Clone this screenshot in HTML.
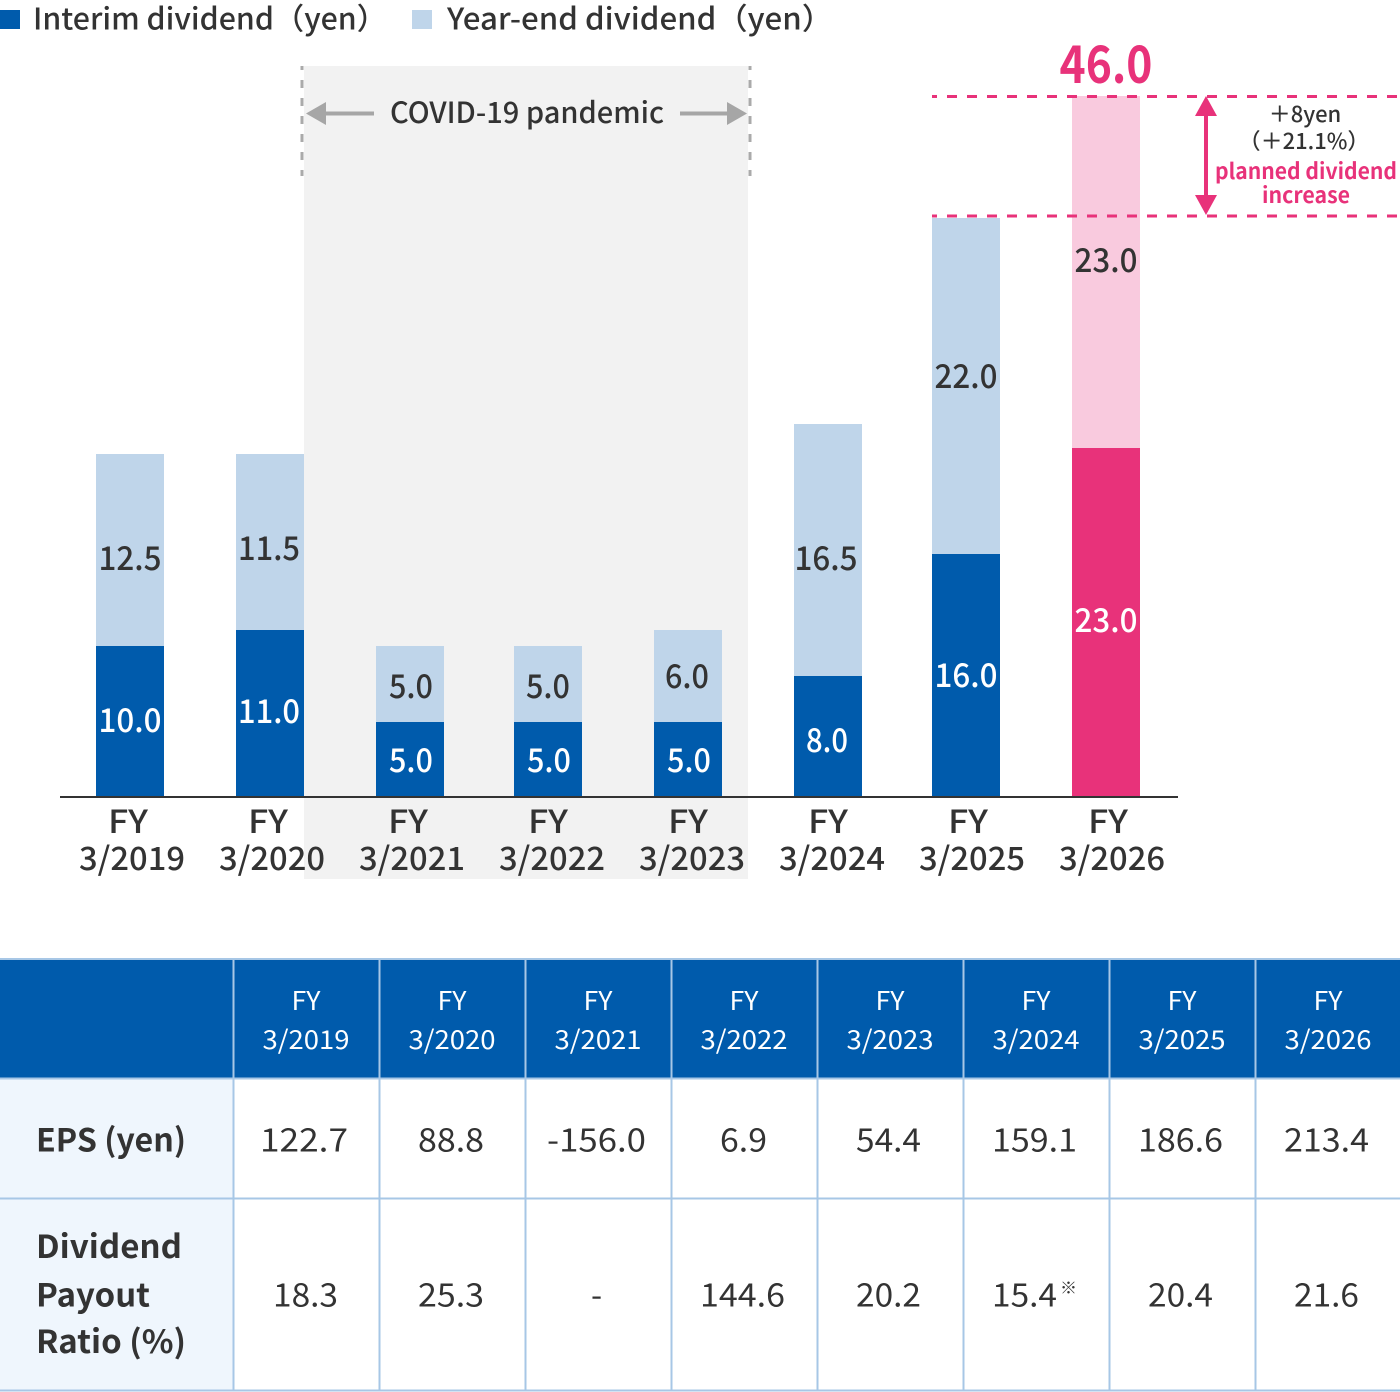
<!DOCTYPE html>
<html><head><meta charset="utf-8"><style>
html,body{margin:0;padding:0;background:#fff;}
body{width:1400px;height:1392px;overflow:hidden;}
svg{display:block;font-family:"Noto Sans CJK JP","Liberation Sans",sans-serif;}
</style></head><body>
<svg width="1400" height="1392" viewBox="0 0 1400 1392" xmlns="http://www.w3.org/2000/svg">
<!-- legend -->
<rect x="0" y="10" width="20" height="19" fill="#005bac"/>
<text x="33" y="29.5" font-size="30" font-weight="500" fill="#333" textLength="354" lengthAdjust="spacingAndGlyphs">Interim dividend（yen）</text>
<rect x="412" y="10" width="20" height="19" fill="#bfd5ea"/>
<text x="447" y="29.5" font-size="30" font-weight="500" fill="#333" textLength="386" lengthAdjust="spacingAndGlyphs">Year-end dividend（yen）</text>

<!-- covid region -->
<rect x="304" y="66" width="444" height="813" fill="#f2f2f2"/>
<line x1="302" y1="66" x2="302" y2="176" stroke="#aaaaaa" stroke-width="3" stroke-dasharray="8 10" stroke-dashoffset="4"/>
<line x1="750" y1="66" x2="750" y2="176" stroke="#aaaaaa" stroke-width="3" stroke-dasharray="8 10" stroke-dashoffset="4"/>
<line x1="322" y1="113.5" x2="374" y2="113.5" stroke="#a6a6a6" stroke-width="4"/>
<polygon points="306,113.5 326,102 326,125" fill="#a6a6a6"/>
<line x1="680" y1="113.5" x2="730" y2="113.5" stroke="#a6a6a6" stroke-width="4"/>
<polygon points="747,113.5 727,102 727,125" fill="#a6a6a6"/>
<text x="390" y="123" font-size="29" font-weight="500" fill="#333" textLength="274" lengthAdjust="spacingAndGlyphs">COVID-19 pandemic</text>

<!-- bars -->
<g>
<rect x="96" y="454" width="68" height="192" fill="#bfd5ea"/>
<rect x="96" y="646" width="68" height="151" fill="#005bac"/>
<rect x="236" y="454" width="68" height="176" fill="#bfd5ea"/>
<rect x="236" y="630" width="68" height="167" fill="#005bac"/>
<rect x="376" y="646" width="68" height="76" fill="#bfd5ea"/>
<rect x="376" y="722" width="68" height="75" fill="#005bac"/>
<rect x="514" y="646" width="68" height="76" fill="#bfd5ea"/>
<rect x="514" y="722" width="68" height="75" fill="#005bac"/>
<rect x="654" y="630" width="68" height="92" fill="#bfd5ea"/>
<rect x="654" y="722" width="68" height="75" fill="#005bac"/>
<rect x="794" y="424" width="68" height="252" fill="#bfd5ea"/>
<rect x="794" y="676" width="68" height="121" fill="#005bac"/>
<rect x="932" y="218" width="68" height="336" fill="#bfd5ea"/>
<rect x="932" y="554" width="68" height="243" fill="#005bac"/>
<rect x="1072" y="96" width="68" height="352" fill="#f9cade"/>
<rect x="1072" y="448" width="68" height="349" fill="#e8327a"/>
</g>
<line x1="60" y1="797" x2="1178" y2="797" stroke="#333" stroke-width="2"/>

<!-- bar labels -->
<g font-size="33" font-weight="500" text-anchor="middle" lengthAdjust="spacingAndGlyphs">
<text x="130" y="570" fill="#333" textLength="63" lengthAdjust="spacingAndGlyphs">12.5</text>
<text x="130" y="732" fill="#fff" textLength="63" lengthAdjust="spacingAndGlyphs">10.0</text>
<text x="269" y="560" fill="#333" textLength="62" lengthAdjust="spacingAndGlyphs">11.5</text>
<text x="269" y="723" fill="#fff" textLength="62" lengthAdjust="spacingAndGlyphs">11.0</text>
<text x="411" y="698" fill="#333" textLength="44" lengthAdjust="spacingAndGlyphs">5.0</text>
<text x="411" y="772" fill="#fff" textLength="44" lengthAdjust="spacingAndGlyphs">5.0</text>
<text x="548" y="698" fill="#333" textLength="44" lengthAdjust="spacingAndGlyphs">5.0</text>
<text x="549" y="772" fill="#fff" textLength="44" lengthAdjust="spacingAndGlyphs">5.0</text>
<text x="687" y="688" fill="#333" textLength="44" lengthAdjust="spacingAndGlyphs">6.0</text>
<text x="689" y="772" fill="#fff" textLength="44" lengthAdjust="spacingAndGlyphs">5.0</text>
<text x="826" y="570" fill="#333" textLength="63" lengthAdjust="spacingAndGlyphs">16.5</text>
<text x="827" y="752" fill="#fff" textLength="42" lengthAdjust="spacingAndGlyphs">8.0</text>
<text x="966" y="388" fill="#333" textLength="63" lengthAdjust="spacingAndGlyphs">22.0</text>
<text x="966" y="687" fill="#fff" textLength="63" lengthAdjust="spacingAndGlyphs">16.0</text>
<text x="1106" y="272" fill="#333" textLength="63" lengthAdjust="spacingAndGlyphs">23.0</text>
<text x="1106" y="632" fill="#fff" textLength="63" lengthAdjust="spacingAndGlyphs">23.0</text>
</g>

<!-- axis labels -->
<g font-size="32" font-weight="500" fill="#333" text-anchor="middle">
<text x="128" y="833" textLength="40" lengthAdjust="spacingAndGlyphs">FY</text>
<text x="132" y="870" textLength="106" lengthAdjust="spacingAndGlyphs">3/2019</text>
<text x="268" y="833" textLength="40" lengthAdjust="spacingAndGlyphs">FY</text>
<text x="272" y="870" textLength="106" lengthAdjust="spacingAndGlyphs">3/2020</text>
<text x="408" y="833" textLength="40" lengthAdjust="spacingAndGlyphs">FY</text>
<text x="412" y="870" textLength="106" lengthAdjust="spacingAndGlyphs">3/2021</text>
<text x="548" y="833" textLength="40" lengthAdjust="spacingAndGlyphs">FY</text>
<text x="552" y="870" textLength="106" lengthAdjust="spacingAndGlyphs">3/2022</text>
<text x="688" y="833" textLength="40" lengthAdjust="spacingAndGlyphs">FY</text>
<text x="692" y="870" textLength="106" lengthAdjust="spacingAndGlyphs">3/2023</text>
<text x="828" y="833" textLength="40" lengthAdjust="spacingAndGlyphs">FY</text>
<text x="832" y="870" textLength="106" lengthAdjust="spacingAndGlyphs">3/2024</text>
<text x="968" y="833" textLength="40" lengthAdjust="spacingAndGlyphs">FY</text>
<text x="972" y="870" textLength="106" lengthAdjust="spacingAndGlyphs">3/2025</text>
<text x="1108" y="833" textLength="40" lengthAdjust="spacingAndGlyphs">FY</text>
<text x="1112" y="870" textLength="106" lengthAdjust="spacingAndGlyphs">3/2026</text>
</g>

<!-- increase annotation -->
<text x="1106" y="83" font-size="52" font-weight="700" fill="#e8327a" text-anchor="middle" textLength="93" lengthAdjust="spacingAndGlyphs">46.0</text>
<line x1="932" y1="96.5" x2="1400" y2="96.5" stroke="#e8327a" stroke-width="3" stroke-dasharray="10 10" stroke-dashoffset="5"/>
<line x1="932" y1="216" x2="1400" y2="216" stroke="#e8327a" stroke-width="3" stroke-dasharray="10 10" stroke-dashoffset="5"/>
<line x1="1206" y1="110" x2="1206" y2="202" stroke="#e8327a" stroke-width="4"/>
<polygon points="1206,96 1195,116 1217,116" fill="#e8327a"/>
<polygon points="1206,215 1195,195 1217,195" fill="#e8327a"/>
<text x="1305" y="122" font-size="22" font-weight="500" fill="#333" text-anchor="middle">＋8yen</text>
<text x="1304" y="149" font-size="22" font-weight="500" fill="#333" text-anchor="middle">（＋21.1%）</text>
<text x="1306" y="179" font-size="22" font-weight="700" fill="#e8327a" text-anchor="middle" textLength="182" lengthAdjust="spacingAndGlyphs">planned dividend</text>
<text x="1306" y="203" font-size="22" font-weight="700" fill="#e8327a" text-anchor="middle" textLength="88" lengthAdjust="spacingAndGlyphs">increase</text>

<!-- table -->
<rect x="0" y="959" width="1400" height="120" fill="#005bac"/>
<rect x="0" y="1079" width="233" height="312" fill="#eff6fd"/>
<g stroke="#a7c7e6" stroke-width="2">
<line x1="0" y1="959" x2="1400" y2="959"/>
<line x1="0" y1="1078.5" x2="1400" y2="1078.5"/>
<line x1="0" y1="1198.5" x2="1400" y2="1198.5"/>
<line x1="0" y1="1390.5" x2="1400" y2="1390.5"/>
<line x1="233.5" y1="959" x2="233.5" y2="1391"/>
<line x1="379.5" y1="959" x2="379.5" y2="1391"/>
<line x1="525.5" y1="959" x2="525.5" y2="1391"/>
<line x1="671.5" y1="959" x2="671.5" y2="1391"/>
<line x1="817.5" y1="959" x2="817.5" y2="1391"/>
<line x1="963.5" y1="959" x2="963.5" y2="1391"/>
<line x1="1109.5" y1="959" x2="1109.5" y2="1391"/>
<line x1="1255.5" y1="959" x2="1255.5" y2="1391"/>
</g>
<g font-size="26" fill="#fff" text-anchor="middle">
<text x="306" y="1010" textLength="29" lengthAdjust="spacingAndGlyphs">FY</text>
<text x="306" y="1049" textLength="87" lengthAdjust="spacingAndGlyphs">3/2019</text>
<text x="452" y="1010" textLength="29" lengthAdjust="spacingAndGlyphs">FY</text>
<text x="452" y="1049" textLength="87" lengthAdjust="spacingAndGlyphs">3/2020</text>
<text x="598" y="1010" textLength="29" lengthAdjust="spacingAndGlyphs">FY</text>
<text x="598" y="1049" textLength="87" lengthAdjust="spacingAndGlyphs">3/2021</text>
<text x="744" y="1010" textLength="29" lengthAdjust="spacingAndGlyphs">FY</text>
<text x="744" y="1049" textLength="87" lengthAdjust="spacingAndGlyphs">3/2022</text>
<text x="890" y="1010" textLength="29" lengthAdjust="spacingAndGlyphs">FY</text>
<text x="890" y="1049" textLength="87" lengthAdjust="spacingAndGlyphs">3/2023</text>
<text x="1036" y="1010" textLength="29" lengthAdjust="spacingAndGlyphs">FY</text>
<text x="1036" y="1049" textLength="87" lengthAdjust="spacingAndGlyphs">3/2024</text>
<text x="1182" y="1010" textLength="29" lengthAdjust="spacingAndGlyphs">FY</text>
<text x="1182" y="1049" textLength="87" lengthAdjust="spacingAndGlyphs">3/2025</text>
<text x="1328" y="1010" textLength="29" lengthAdjust="spacingAndGlyphs">FY</text>
<text x="1328" y="1049" textLength="87" lengthAdjust="spacingAndGlyphs">3/2026</text>
</g>
<g font-size="32" font-weight="700" fill="#333">
<text x="36" y="1151.5" textLength="150" lengthAdjust="spacingAndGlyphs">EPS (yen)</text>
<text x="36" y="1258" textLength="146" lengthAdjust="spacingAndGlyphs">Dividend</text>
<text x="36" y="1306.5" textLength="114" lengthAdjust="spacingAndGlyphs">Payout</text>
<text x="36" y="1353" textLength="150" lengthAdjust="spacingAndGlyphs">Ratio (%)</text>
</g>
<g font-size="32" fill="#333" text-anchor="middle">
<text x="304" y="1151.5" textLength="88" lengthAdjust="spacingAndGlyphs">122.7</text>
<text x="451" y="1151.5" textLength="66" lengthAdjust="spacingAndGlyphs">88.8</text>
<text x="596.5" y="1151.5" textLength="99" lengthAdjust="spacingAndGlyphs">-156.0</text>
<text x="743.5" y="1151.5" textLength="47" lengthAdjust="spacingAndGlyphs">6.9</text>
<text x="888.5" y="1151.5" textLength="65" lengthAdjust="spacingAndGlyphs">54.4</text>
<text x="1034.5" y="1151.5" textLength="85" lengthAdjust="spacingAndGlyphs">159.1</text>
<text x="1180.5" y="1151.5" textLength="85" lengthAdjust="spacingAndGlyphs">186.6</text>
<text x="1326.5" y="1151.5" textLength="85" lengthAdjust="spacingAndGlyphs">213.4</text>

<text x="305.5" y="1306.5" textLength="65" lengthAdjust="spacingAndGlyphs">18.3</text>
<text x="451" y="1306.5" textLength="66" lengthAdjust="spacingAndGlyphs">25.3</text>
<text x="596.5" y="1306.5">-</text>
<text x="742.5" y="1306.5" textLength="85" lengthAdjust="spacingAndGlyphs">144.6</text>
<text x="888.5" y="1306.5" textLength="65" lengthAdjust="spacingAndGlyphs">20.2</text>
<text x="1180.5" y="1306.5" textLength="65" lengthAdjust="spacingAndGlyphs">20.4</text>
<text x="1326.5" y="1306.5" textLength="65" lengthAdjust="spacingAndGlyphs">21.6</text>
</g>
<text x="992" y="1306.5" font-size="32" fill="#333" textLength="65" lengthAdjust="spacingAndGlyphs">15.4</text>
<text x="1060" y="1294" font-size="17" fill="#333">※</text>
</svg>
</body></html>
